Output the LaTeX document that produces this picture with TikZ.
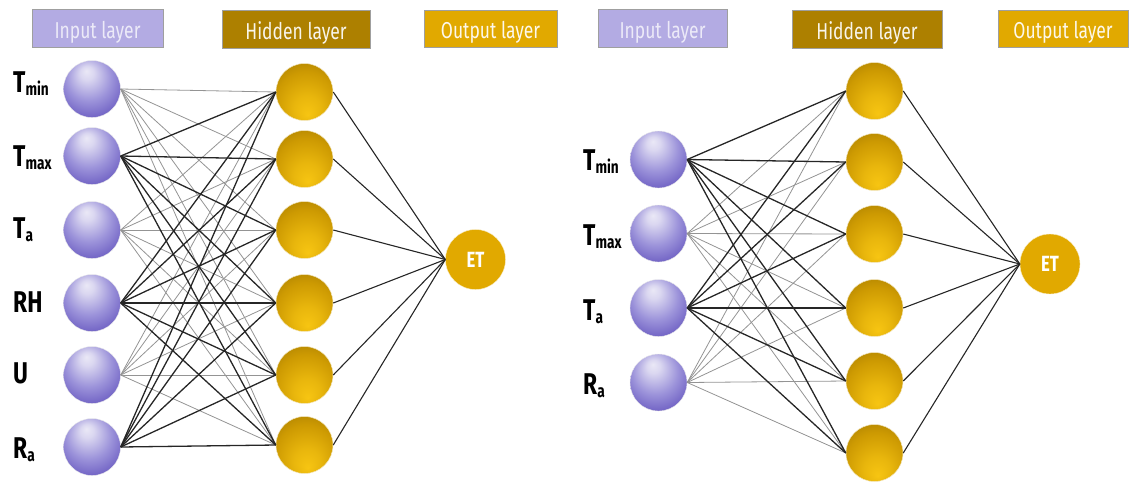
\documentclass[tikz,border=0pt]{standalone}
\usepackage{fontspec}
\newfontfamily\cond[FakeStretch=0.76]{Fira Sans}
\definecolor{inlight}{HTML}{EAE8F6}
\definecolor{inmid}{HTML}{9C93DA}
\definecolor{indark}{HTML}{6050BC}
\definecolor{hidlight}{HTML}{F7C512}
\definecolor{hidmid}{HTML}{CD9A02}
\definecolor{hiddark}{HTML}{9F7600}
\definecolor{inbox}{HTML}{B3ABE3}
\definecolor{hidbox}{HTML}{AD8000}
\definecolor{outbox}{HTML}{E1A900}
\definecolor{intext}{HTML}{ECEAF8}
\pgfdeclareradialshading{inshade}{\pgfpoint{-5bp}{16bp}}{color(0bp)=(inlight); color(6bp)=(inlight!80!inmid); color(20bp)=(inmid); color(36bp)=(indark); color(50bp)=(indark)}
\pgfdeclareradialshading{hidshade}{\pgfpoint{3bp}{-20bp}}{color(0bp)=(hidlight); color(12bp)=(hidlight!65!hidmid); color(27bp)=(hidmid); color(42bp)=(hiddark); color(50bp)=(hiddark)}
\tikzset{
  inneuron/.style={circle, minimum size=57pt, inner sep=0pt, shading=inshade, draw=white!85!gray, line width=0.4pt},
  hidneuron/.style={circle, minimum size=57pt, inner sep=0pt, shading=hidshade, draw=white!75!hidmid, line width=0.5pt},
  outneuron/.style={circle, minimum size=60pt, inner sep=0pt, fill=outbox, draw=white!80!outbox, line width=0.4pt, text=white, font=\cond\bfseries\fontsize{22}{22}\selectfont},
  header/.style={draw=gray!75, line width=0.5pt, inner sep=0pt, text height=22pt, text depth=2pt, font=\cond\fontsize{23}{23}\selectfont},
  lab/.style={anchor=base west, inner sep=0pt, font=\cond\bfseries\fontsize{30}{30}\selectfont},
  dk/.style={draw=black!85, line width=1.3pt},
  lt/.style={draw=black!42, line width=0.8pt},
  oe/.style={draw=black!85, line width=1.1pt}
}
\newcommand{\sbs}[1]{\raisebox{-3pt}{\fontsize{18}{18}\selectfont #1}}
\begin{document}
\begin{tikzpicture}[x=1pt,y=-1pt]
\useasboundingbox (0,0) rectangle (1132,483);
% ---------- headers ----------
\node[header, fill=inbox, text=intext, minimum width=131pt, minimum height=38pt] (hinL) at (97.5,28) {Input layer};
\node[header, fill=hidbox, text=white!92!hidbox, minimum width=148pt, minimum height=38pt] (hhidL) at (296,29) {Hidden layer};
\node[header, fill=outbox, text=white!92!outbox, minimum width=133pt, minimum height=37pt] (houtL) at (490.5,28.5) {Output layer};
\node[header, fill=inbox, text=intext, minimum width=129pt, minimum height=38pt] (hinR) at (662.5,28) {Input layer};
\node[header, fill=hidbox, text=white!92!hidbox, minimum width=150pt, minimum height=38pt] (hhidR) at (867,29) {Hidden layer};
\node[header, fill=outbox, text=white!92!outbox, minimum width=130pt, minimum height=37pt] (houtR) at (1063,28.5) {Output layer};
% ---------- left network ----------
\foreach \n/\y in {1/89,2/156,3/230,4/303,5/375,6/447}{
  \node[inneuron] (a\n) at (92,\y) {};
}
\foreach \n/\y in {1/92,2/159,3/230,4/303,5/375,6/445}{
  \node[hidneuron] (b\n) at (304.5,\y) {};
}
\node[outneuron] (etL) at (475.5,259.5) {ET};
\foreach \i in {1,3,5}{
  \foreach \j in {1,...,6}{
    \draw[lt] (a\i.east) -- (b\j.west);
  }
}
\foreach \i in {2,4,6}{
  \foreach \j in {1,...,6}{
    \draw[dk] (a\i.east) -- (b\j.west);
  }
}
\foreach \j in {1,...,6}{
  \draw[oe] (b\j.east) -- (etL.west);
}
\node[lab] (lA1) at (13,92) {T\sbs{min}};
\node[lab] (lA2) at (13,166) {T\sbs{max}};
\node[lab] (lA3) at (13,238) {T\sbs{a}};
\node[lab] (lA4) at (13,312) {RH};
\node[lab] (lA5) at (13,383) {U};
\node[lab] (lA6) at (13,458) {R\sbs{a}};
% ---------- right network ----------
\foreach \n/\y in {1/159.5,2/233.5,3/308,4/382.5}{
  \node[inneuron] (c\n) at (658.5,\y) {};
}
\foreach \n/\y in {1/91,2/162,3/234,4/308,5/381,6/453}{
  \node[hidneuron] (d\n) at (874.5,\y) {};
}
\node[outneuron] (etR) at (1050,264) {ET};
\foreach \i in {2,4}{
  \foreach \j in {1,...,6}{
    \draw[lt] (c\i.east) -- (d\j.west);
  }
}
\foreach \i in {1,3}{
  \foreach \j in {1,...,6}{
    \draw[dk] (c\i.east) -- (d\j.west);
  }
}
\foreach \j in {1,...,6}{
  \draw[oe] (d\j.east) -- (etR.west);
}
\node[lab] (lB1) at (583,170) {T\sbs{min}};
\node[lab] (lB2) at (583,245) {T\sbs{max}};
\node[lab] (lB3) at (583,320) {T\sbs{a}};
\node[lab] (lB4) at (583,394) {R\sbs{a}};
\end{tikzpicture}
\end{document}
